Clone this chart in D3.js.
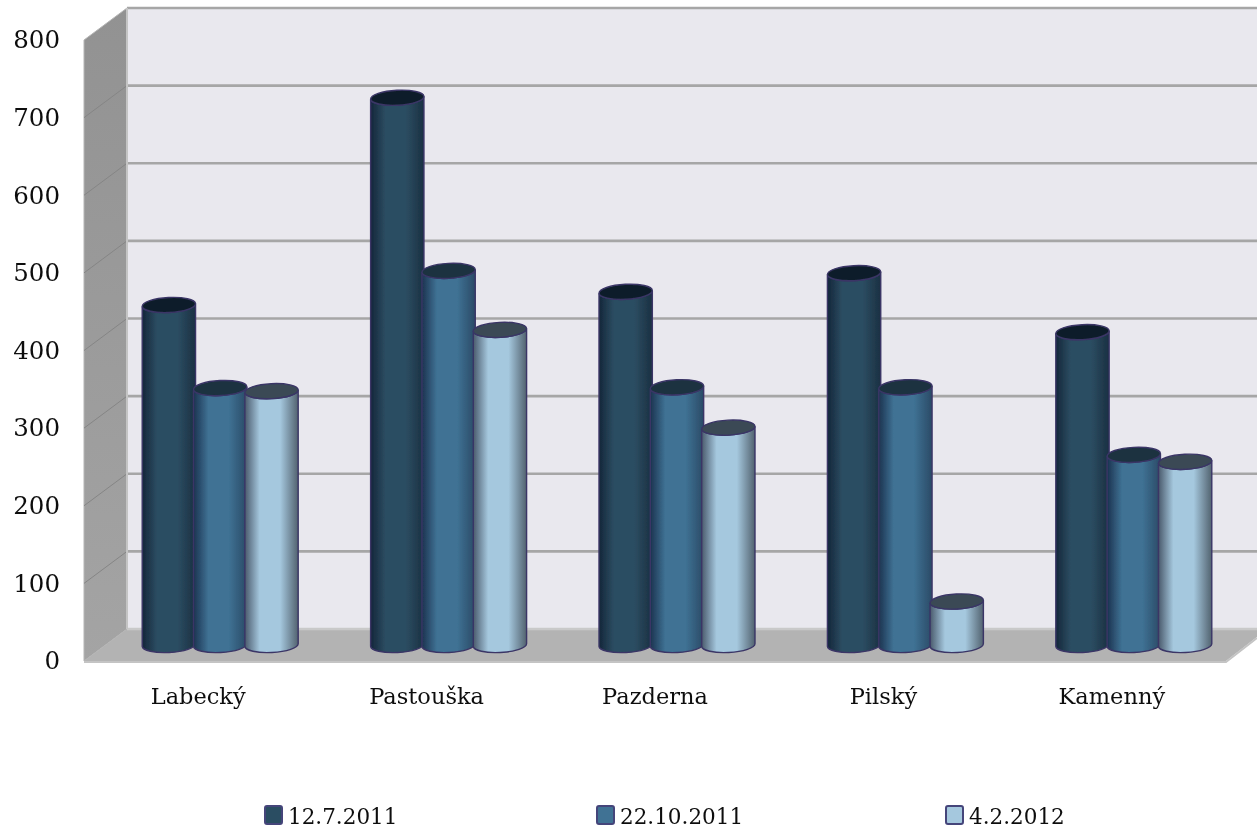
<!DOCTYPE html>
<html><head><meta charset="utf-8">
<script src="https://cdnjs.cloudflare.com/ajax/libs/d3/7.8.5/d3.min.js"></script>
<style>html,body{margin:0;padding:0;background:#fff}svg{display:block}
text{font-family:"DejaVu Serif",serif;fill:#111}</style>
</head><body><svg id="c" width="1257" height="833"></svg>
<script>
const categories=["Labecký","Pastouška","Pazderna","Pilský","Kamenný"];
const seriesNames=["12.7.2011","22.10.2011","4.2.2012"];
const s1=[438,705,455,479,403];
const s2=[331,482,332,332,245];
const s3=[327,406,280,56,236];
const seriesValues=[s1,s2,s3];
const ticks=[0,100,200,300,400,500,600,700,800];
const colors=[
 {edge:"#14263a",mid:"#2c4d62",right:"#1a3042",top:"#0f1f2b",swatch:"#2c4d62"},
 {edge:"#1c3350",mid:"#3f7294",right:"#2a4a66",top:"#1a3040",swatch:"#3f7294"},
 {edge:"#4a5a6c",mid:"#a5c8de",right:"#52626f",top:"#3a4a55",swatch:"#a5c8de"}];
const svg=d3.select("#c");
const defs=svg.append("defs");
defs.append("filter").attr("id","soft").attr("x","-5%").attr("y","-5%").attr("width","110%").attr("height","110%")
 .append("feGaussianBlur").attr("stdDeviation",0.7);
defs.append("filter").attr("id","softText").attr("x","-5%").attr("y","-5%").attr("width","110%").attr("height","110%")
 .append("feGaussianBlur").attr("stdDeviation",0.35);
colors.forEach((c,i)=>{
 const g=defs.append("linearGradient").attr("id","g"+i);
 [[0,c.edge],[.28,c.mid],[.66,c.mid],[1,c.right]].forEach(([o,col])=>
  g.append("stop").attr("offset",o).attr("stop-color",col));
});
const wg=defs.append("linearGradient").attr("id","wall").attr("x1",0).attr("x2",0).attr("y1",0).attr("y2",1);
wg.append("stop").attr("offset",0).attr("stop-color","#929292");
wg.append("stop").attr("offset",1).attr("stop-color","#a4a4a4");

const yFront=d3.scaleLinear().domain([0,800]).range([661,40]);
const yBack=d3.scaleLinear().domain([0,800]).range([629,8]);
const yBar=d3.scaleLinear().domain([0,800]).range([645,24]);
const x0=d3.scaleBand().domain(categories).range([84,1226]);
const xBar=d3.scaleBand().domain(categories).range([106,1248]);
const x1=d3.scaleBand().domain(d3.range(3)).range([0,xBar.bandwidth()]).paddingInner(0).paddingOuter(0.725);
const [fx0,fx1,bx0,bx1]=[84,1226,127,1257];

const root=svg.append("g").attr("filter","url(#soft)");
const line=d3.line();
root.append("path").attr("fill","#e9e8ee").attr("d",line([[bx0,yBack(800)],[bx1,yBack(800)],[bx1,yBack(0)],[bx0,yBack(0)]])+"Z");
root.append("path").attr("fill","url(#wall)").attr("stroke","#b5b5b5").attr("d",line([[fx0,yFront(800)],[bx0,yBack(800)],[bx0,yBack(0)],[fx0,yFront(0)]])+"Z");
root.append("path").attr("fill","#b3b3b3").attr("d",line([[fx0,yFront(0)],[bx0,yBack(0)],[bx1,yBack(0)],[bx1,yFront(0)-24],[fx1,yFront(0)]])+"Z");
root.append("path").attr("fill","none").attr("stroke","#c4c4c4").attr("stroke-width",2)
 .attr("d",line([[fx0,yFront(0)+1],[fx1,yFront(0)+1],[bx1,yFront(0)-23]]));
ticks.forEach(t=>{
 root.append("line").attr("x1",bx0).attr("x2",bx1).attr("y1",yBack(t)).attr("y2",yBack(t))
  .attr("stroke",t==0?"#c9c9c9":"#a6a6a6").attr("stroke-width",2.6);
 if(t>0&&t<800)root.append("line").attr("x1",fx0).attr("x2",bx0).attr("y1",yFront(t)).attr("y2",yBack(t))
  .attr("stroke","#858585").attr("stroke-width",1);
});
root.append("line").attr("x1",bx0).attr("x2",bx0).attr("y1",yBack(800)).attr("y2",yBack(0)).attr("stroke","#c4c4c4").attr("stroke-width",2);
const rot=-3, ry=7.5;
categories.forEach((cat,ci)=>{
 seriesValues.forEach((vals,si)=>{
  const c=colors[si], bw=x1.bandwidth()+2;
  const left=xBar(cat)+x1(si)-1, rx=bw/2, cx=left+rx;
  const yT=yBar(vals[ci]), yB=yBar(0);
  const dy=rx*Math.sin(rot*Math.PI/180);
  const bar=root.append("g");
  bar.append("path").attr("fill",`url(#g${si})`).attr("stroke","#3a3566").attr("stroke-width",1.4)
   .attr("d",`M${left},${yT-dy} L${left},${yB-dy} A${rx},${ry} ${rot} 0 0 ${left+2*rx},${yB+dy} L${left+2*rx},${yT+dy} A${rx},${ry} ${rot} 0 1 ${left},${yT-dy}Z`);
  bar.append("ellipse").attr("rx",rx).attr("ry",ry)
   .attr("transform",`translate(${cx},${yT}) rotate(${rot})`)
   .attr("fill",c.top).attr("stroke","#3a3566").attr("stroke-width",1.4);
 });
});
const serif='"DejaVu Serif",serif';
const axY=svg.append("g").attr("filter","url(#softText)").attr("transform","translate(64,0)").call(d3.axisLeft(yFront).tickValues(ticks).tickSize(0).tickPadding(4));
axY.select(".domain").remove();
axY.selectAll("text").style("font-size","24.5px").style("font-family",serif);
const axX=svg.append("g").attr("filter","url(#softText)").attr("transform","translate(0,704)").call(d3.axisBottom(x0).tickSize(0).tickPadding(0));
axX.select(".domain").remove();
axX.selectAll("text").attr("dy",0).attr("y",0).style("font-size","22.5px").style("font-family",serif);
const legendX=d3.scaleOrdinal().domain(seriesNames).range([265,597,946]);
const leg=svg.append("g").attr("filter","url(#softText)").selectAll("g").data(seriesNames).join("g").attr("transform",d=>`translate(${legendX(d)},0)`);
leg.append("rect").attr("x",0).attr("y",806).attr("width",17).attr("height",18).attr("rx",2)
 .attr("fill",(d,i)=>colors[i].swatch).attr("stroke","#45457a").attr("stroke-width",2);
leg.append("text").attr("x",23).attr("y",824).style("font-size","21.5px").text(d=>d);
</script></body></html>
